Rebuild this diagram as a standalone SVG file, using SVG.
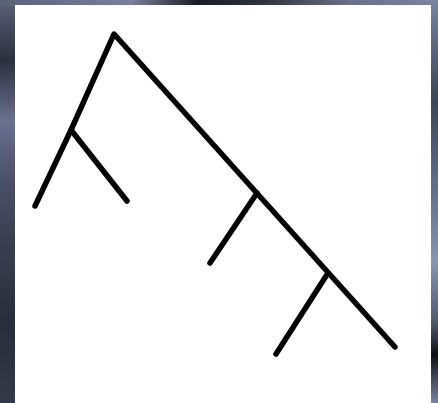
<svg xmlns="http://www.w3.org/2000/svg" width="438" height="403" viewBox="0 0 438 403">
  <defs>
    <linearGradient id="bgL" x1="0" y1="0" x2="0" y2="1">
      <stop offset="0" stop-color="#5a6078"/>
      <stop offset="0.15" stop-color="#2c303e"/>
      <stop offset="0.3" stop-color="#6a7090"/>
      <stop offset="0.45" stop-color="#4a5068"/>
      <stop offset="0.6" stop-color="#3a3e50"/>
      <stop offset="0.8" stop-color="#2a2e3a"/>
      <stop offset="1" stop-color="#343848"/>
    </linearGradient>
    <linearGradient id="bgR" x1="0" y1="0" x2="0" y2="1">
      <stop offset="0" stop-color="#7a84a0"/>
      <stop offset="0.25" stop-color="#3e4458"/>
      <stop offset="0.5" stop-color="#6a7490"/>
      <stop offset="0.65" stop-color="#8a94b0"/>
      <stop offset="0.8" stop-color="#50586e"/>
      <stop offset="0.88" stop-color="#0e1014"/>
      <stop offset="1" stop-color="#7a84a0"/>
    </linearGradient>
    <linearGradient id="bgT" x1="0" y1="0" x2="1" y2="0">
      <stop offset="0" stop-color="#5a6078"/>
      <stop offset="0.3" stop-color="#7a809a"/>
      <stop offset="0.45" stop-color="#1a1c24"/>
      <stop offset="0.6" stop-color="#30343f"/>
      <stop offset="0.8" stop-color="#6a7088"/>
      <stop offset="1" stop-color="#7a84a0"/>
    </linearGradient>
    <style>
      .ln { stroke: #000; stroke-width: 5.5; stroke-linecap: round; stroke-linejoin: round; fill: none; }
    </style>
  </defs>
  <rect x="0" y="0" width="438" height="403" fill="url(#bgL)"/>
  <rect x="380" y="0" width="58" height="403" fill="url(#bgR)"/>
  <rect x="0" y="0" width="438" height="6" fill="url(#bgT)"/>
  <rect x="15" y="5" width="416" height="398" fill="#ffffff"/>
  <g id="connectors">
    <polyline id="trunk" class="ln" points="35,206 71,130 114,34 395,347"/>
    <line id="leaf1" class="ln" x1="71" y1="130" x2="127" y2="201"/>
    <line id="leaf2" class="ln" x1="257" y1="193" x2="210" y2="263"/>
    <line id="leaf3" class="ln" x1="328" y1="273" x2="276" y2="354"/>
  </g>
</svg>
